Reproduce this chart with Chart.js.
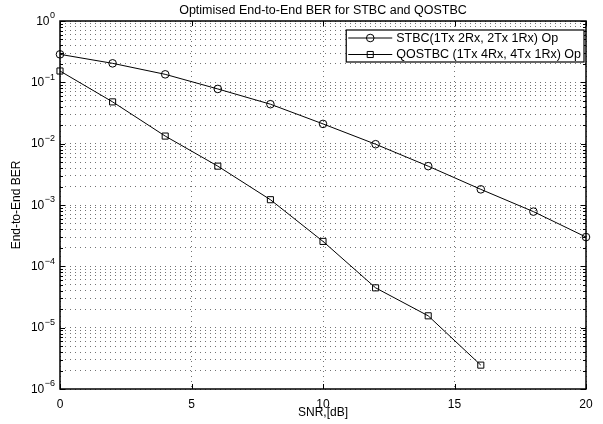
<!DOCTYPE html>
<html><head><meta charset="utf-8">
<script src="https://cdn.jsdelivr.net/npm/chart.js@4"></script>
<style>html,body{margin:0;padding:0;background:#fff}canvas{display:block}</style>
</head><body>
<canvas id="c" width="603" height="424"></canvas>
<script>
// ---- data ----
const snrStbc   = [0, 2, 4, 6, 8, 10, 12, 14, 16, 18, 20];
const berStbc   = [0.286, 0.204, 0.135, 0.078, 0.044, 0.021, 0.0098, 0.0043, 0.0018, 0.00078, 0.00030];
const snrQostbc = [0, 2, 4, 6, 8, 10, 12, 14, 16];
const berQostbc = [0.153, 0.048, 0.0133, 0.0043, 0.00122, 0.000255, 0.0000446, 0.0000156, 0.00000245];
const seriesLabels = ['STBC(1Tx 2Rx, 2Tx 1Rx) Op', 'QOSTBC (1Tx 4Rx, 4Tx 1Rx) Op'];
const xTickValues = [0, 5, 10, 15, 20];
const yDecades = [-6, -5, -4, -3, -2, -1, 0];
const titleText = 'Optimised End-to-End BER for STBC and QOSTBC';
const xTitle = 'SNR,[dB]';
const yTitle = 'End-to-End BER';

const FONT = "'Liberation Sans', Arial, Helvetica, sans-serif";
function isDecade(v) { const l = Math.log10(v); return Math.abs(l - Math.round(l)) < 1e-9; }

const GRID = 'rgba(0,0,0,0.55)';

const framePlugin = {
  id: 'frame',
  afterDraw(chart) {
    const {ctx, chartArea: ca, scales} = chart;
    ctx.save();
    ctx.setLineDash([]);
    ctx.strokeStyle = '#000';
    ctx.lineWidth = 1;
    // inward ticks
    ctx.beginPath();
    scales.y.ticks.forEach(t => {
      const y = Math.round(scales.y.getPixelForValue(t.value)) + 0.5;
      const len = isDecade(t.value) ? 5 : 3;
      ctx.moveTo(ca.left, y); ctx.lineTo(ca.left + len, y);
      ctx.moveTo(ca.right, y); ctx.lineTo(ca.right - len, y);
    });
    xTickValues.forEach(v => {
      const x = Math.round(scales.x.getPixelForValue(v)) + 0.5;
      ctx.moveTo(x, ca.bottom); ctx.lineTo(x, ca.bottom - 5);
      ctx.moveTo(x, ca.top); ctx.lineTo(x, ca.top + 5);
    });
    ctx.stroke();
    ctx.lineWidth = 1.5;
    ctx.strokeRect(ca.left, ca.top, ca.right - ca.left, ca.bottom - ca.top);

    // y tick labels: 10 with superscript exponent
    ctx.fillStyle = '#000';
    ctx.textBaseline = 'middle';
    yDecades.forEach(e => {
      const y = scales.y.getPixelForValue(Math.pow(10, e));
      const exp = String(e).replace('-', '\u2212');
      ctx.font = '9px ' + FONT;
      const ew = ctx.measureText(exp).width;
      const xr = ca.left - 5;
      ctx.textAlign = 'left';
      ctx.fillText(exp, xr - ew, y - 5);
      ctx.font = '12px ' + FONT;
      ctx.textAlign = 'right';
      ctx.fillText('10', xr - ew - 0.5, y + 0.5);
    });

    // legend inside the axes (upper right)
    const ds = chart.data.datasets;
    const fs = 12.5;
    ctx.font = fs + 'px ' + FONT;
    let tw = 0;
    ds.forEach(d => { tw = Math.max(tw, ctx.measureText(d.label).width); });
    const right = ca.right - 2, top = ca.top + 9;
    const sample = 44, gap = 4, padR = 3;
    const left = right - (padR + tw + gap + sample + 2);
    const rowH = 16.5, h = 32;
    ctx.fillStyle = '#fff';
    ctx.fillRect(left, top, right - left, h);
    ctx.lineWidth = 1.2;
    ctx.strokeStyle = '#000';
    ctx.strokeRect(left, top, right - left, h);
    ds.forEach((d, i) => {
      const cy = top + 8 + i * rowH;
      const x0 = left + 2, x1 = x0 + sample, xm = (x0 + x1) / 2;
      ctx.lineWidth = 1;
      ctx.strokeStyle = '#000';
      ctx.beginPath(); ctx.moveTo(x0, cy); ctx.lineTo(x1, cy); ctx.stroke();
      ctx.fillStyle = 'rgba(0,0,0,0)';
      Chart.helpers.drawPoint(ctx, {pointStyle: d.pointStyle, radius: d.pointRadius, borderWidth: 1}, xm, cy);
      ctx.fillStyle = '#000';
      ctx.textBaseline = 'middle';
      ctx.textAlign = 'left';
      ctx.font = fs + 'px ' + FONT;
      ctx.fillText(d.label, x1 + gap, cy + 0.5);
    });
    ctx.restore();
  }
};

new Chart(document.getElementById('c'), {
  type: 'line',
  data: {
    datasets: [
      {
        label: seriesLabels[0],
        data: snrStbc.map((x, i) => ({x, y: berStbc[i]})),
        borderColor: '#000', borderWidth: 1,
        pointStyle: 'circle', pointRadius: 3.8, pointBorderWidth: 1,
        pointBorderColor: '#000', pointBackgroundColor: 'rgba(0,0,0,0)',
        tension: 0, clip: false
      },
      {
        label: seriesLabels[1],
        data: snrQostbc.map((x, i) => ({x, y: berQostbc[i]})),
        borderColor: '#000', borderWidth: 1,
        pointStyle: 'rect', pointRadius: 4.3, pointBorderWidth: 1,
        pointBorderColor: '#000', pointBackgroundColor: 'rgba(0,0,0,0)',
        tension: 0, clip: false
      }
    ]
  },
  options: {
    responsive: false,
    animation: false,
    layout: {padding: {left: 0, right: 17, top: 0, bottom: 0}},
    plugins: {
      legend: {display: false},
      tooltip: {enabled: false},
      title: {
        display: true, text: titleText, fullSize: false,
        color: '#000', font: {family: FONT, size: 12.5, weight: 'normal'},
        padding: {top: 3, bottom: 3}
      }
    },
    scales: {
      x: {
        type: 'linear', min: 0, max: 20,
        afterBuildTicks(scale) { scale.ticks = xTickValues.map(v => ({value: v})); },
        afterFit(scale) { scale.height = 35; },
        ticks: {color: '#000', font: {family: FONT, size: 12}, padding: 8, maxRotation: 0, autoSkip: false},
        grid: {color: GRID, lineWidth: 1, drawTicks: false},
        border: {display: false, dash: [1, 4]},
        title: {display: true, text: xTitle, color: '#000', font: {family: FONT, size: 12}, padding: {top: 0, bottom: 4}}
      },
      y: {
        type: 'logarithmic', min: 1e-6, max: 1,
        afterBuildTicks(scale) {
          const t = [];
          yDecades.forEach(e => {
            for (let m = 1; m <= 9; m++) {
              if (e === 0 && m > 1) break;
              t.push({value: m * Math.pow(10, e), major: m === 1});
            }
          });
          scale.ticks = t;
        },
        afterFit(scale) { scale.width = 60; },
        ticks: {display: false, autoSkip: false},
        grid: {color: GRID, lineWidth: 1, drawTicks: false},
        border: {display: false, dash: [1, 4]},
        title: {display: true, text: yTitle, color: '#000', font: {family: FONT, size: 12}, padding: {top: 9, bottom: 0}}
      }
    }
  },
  plugins: [framePlugin]
});
</script>
</body></html>
